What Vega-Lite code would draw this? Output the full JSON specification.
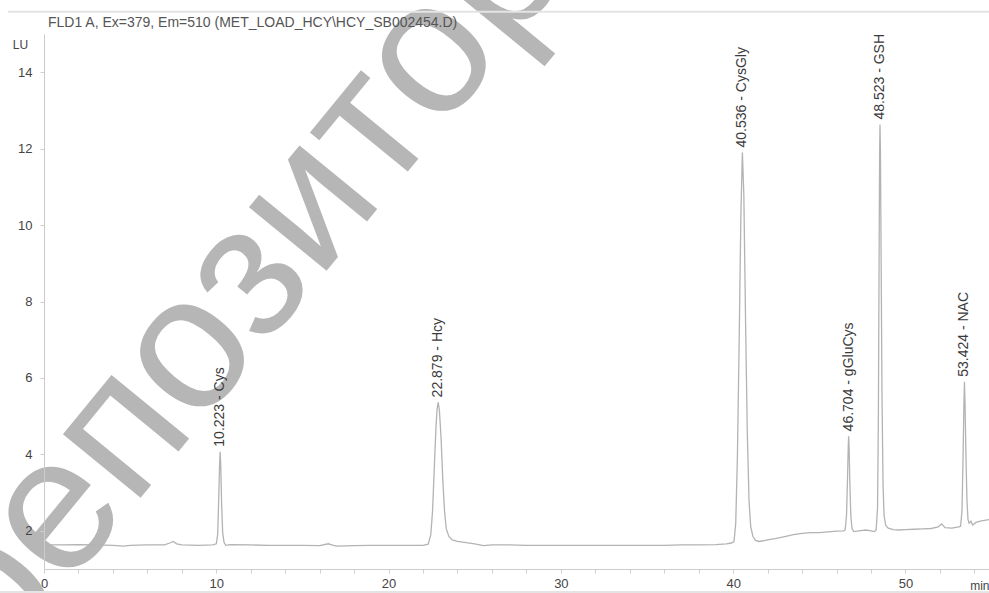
{
  "$schema": "https://vega.github.io/schema/vega-lite/v6.json",
  "width": 945,
  "height": 535,
  "autosize": {"type": "none"},
  "padding": {"left": 44, "top": 34, "right": 0, "bottom": 24},
  "background": "white",
  "config": {
    "view": {"stroke": null},
    "font": "Liberation Sans"
  },
  "datasets": {
    "trace": [
      {"t": 0, "v": 1.63}, {"t": 1, "v": 1.63}, {"t": 2, "v": 1.64}, {"t": 3, "v": 1.63}, {"t": 4, "v": 1.62},
      {"t": 4.6, "v": 1.6}, {"t": 5, "v": 1.62}, {"t": 6, "v": 1.63}, {"t": 7, "v": 1.63}, {"t": 7.3, "v": 1.68},
      {"t": 7.5, "v": 1.72}, {"t": 7.7, "v": 1.66}, {"t": 8, "v": 1.63}, {"t": 9, "v": 1.62}, {"t": 9.8, "v": 1.63},
      {"t": 10.0, "v": 1.66}, {"t": 10.08, "v": 1.9}, {"t": 10.14, "v": 2.8}, {"t": 10.19, "v": 3.7}, {"t": 10.223, "v": 4.07},
      {"t": 10.26, "v": 3.7}, {"t": 10.31, "v": 2.7}, {"t": 10.37, "v": 1.95}, {"t": 10.45, "v": 1.7}, {"t": 10.55, "v": 1.62},
      {"t": 10.8, "v": 1.64}, {"t": 12, "v": 1.63}, {"t": 13, "v": 1.62}, {"t": 14, "v": 1.62}, {"t": 15, "v": 1.62},
      {"t": 16, "v": 1.61}, {"t": 16.5, "v": 1.66}, {"t": 16.8, "v": 1.62}, {"t": 17, "v": 1.6}, {"t": 18, "v": 1.61},
      {"t": 19, "v": 1.62}, {"t": 20, "v": 1.62}, {"t": 21, "v": 1.62}, {"t": 22, "v": 1.62},
      {"t": 22.3, "v": 1.65}, {"t": 22.45, "v": 1.9}, {"t": 22.55, "v": 2.5}, {"t": 22.65, "v": 3.6}, {"t": 22.75, "v": 4.7},
      {"t": 22.82, "v": 5.2}, {"t": 22.879, "v": 5.36}, {"t": 22.95, "v": 5.15}, {"t": 23.05, "v": 4.4}, {"t": 23.15, "v": 3.3},
      {"t": 23.25, "v": 2.5}, {"t": 23.35, "v": 2.05}, {"t": 23.5, "v": 1.85}, {"t": 23.7, "v": 1.76}, {"t": 24, "v": 1.72},
      {"t": 24.5, "v": 1.69}, {"t": 25, "v": 1.66}, {"t": 25.5, "v": 1.61}, {"t": 26, "v": 1.63}, {"t": 27, "v": 1.63},
      {"t": 28, "v": 1.62}, {"t": 29, "v": 1.62}, {"t": 30, "v": 1.62}, {"t": 31, "v": 1.62}, {"t": 32, "v": 1.62},
      {"t": 33, "v": 1.62}, {"t": 34, "v": 1.62}, {"t": 35, "v": 1.62}, {"t": 36, "v": 1.62}, {"t": 37, "v": 1.63},
      {"t": 38, "v": 1.63}, {"t": 39, "v": 1.64}, {"t": 39.6, "v": 1.66}, {"t": 39.9, "v": 1.68},
      {"t": 40.05, "v": 1.72}, {"t": 40.15, "v": 2.2}, {"t": 40.25, "v": 4.0}, {"t": 40.35, "v": 7.0}, {"t": 40.45, "v": 10.3},
      {"t": 40.536, "v": 11.9}, {"t": 40.62, "v": 10.8}, {"t": 40.72, "v": 7.5}, {"t": 40.82, "v": 4.6}, {"t": 40.92, "v": 2.8},
      {"t": 41.02, "v": 2.1}, {"t": 41.15, "v": 1.85}, {"t": 41.3, "v": 1.75}, {"t": 41.5, "v": 1.72}, {"t": 41.8, "v": 1.74},
      {"t": 42, "v": 1.76}, {"t": 42.5, "v": 1.8}, {"t": 43, "v": 1.85}, {"t": 43.5, "v": 1.9}, {"t": 44, "v": 1.93},
      {"t": 44.5, "v": 1.95}, {"t": 45, "v": 1.95}, {"t": 45.5, "v": 1.97}, {"t": 46, "v": 1.99}, {"t": 46.4, "v": 2.0},
      {"t": 46.5, "v": 2.02}, {"t": 46.58, "v": 2.4}, {"t": 46.64, "v": 3.4}, {"t": 46.68, "v": 4.2}, {"t": 46.704, "v": 4.47},
      {"t": 46.73, "v": 4.2}, {"t": 46.77, "v": 3.3}, {"t": 46.83, "v": 2.4}, {"t": 46.9, "v": 2.05}, {"t": 47.0, "v": 1.98},
      {"t": 47.3, "v": 2.0}, {"t": 47.7, "v": 2.02}, {"t": 48.0, "v": 2.0}, {"t": 48.2, "v": 1.98},
      {"t": 48.3, "v": 2.02}, {"t": 48.38, "v": 2.6}, {"t": 48.43, "v": 5.0}, {"t": 48.47, "v": 9.0}, {"t": 48.5, "v": 11.8},
      {"t": 48.523, "v": 12.63}, {"t": 48.55, "v": 11.9}, {"t": 48.59, "v": 9.0}, {"t": 48.64, "v": 5.5}, {"t": 48.7, "v": 3.2},
      {"t": 48.76, "v": 2.4}, {"t": 48.85, "v": 2.15}, {"t": 49.0, "v": 2.07}, {"t": 49.3, "v": 2.03}, {"t": 49.6, "v": 2.02},
      {"t": 50, "v": 2.03}, {"t": 50.5, "v": 2.04}, {"t": 51, "v": 2.05}, {"t": 51.5, "v": 2.06}, {"t": 51.9, "v": 2.1},
      {"t": 52.1, "v": 2.18}, {"t": 52.3, "v": 2.08}, {"t": 52.7, "v": 2.07}, {"t": 53.1, "v": 2.1},
      {"t": 53.2, "v": 2.12}, {"t": 53.28, "v": 2.5}, {"t": 53.34, "v": 3.8}, {"t": 53.39, "v": 5.2}, {"t": 53.424, "v": 5.9},
      {"t": 53.46, "v": 5.3}, {"t": 53.51, "v": 4.0}, {"t": 53.57, "v": 2.8}, {"t": 53.63, "v": 2.3}, {"t": 53.7, "v": 2.2},
      {"t": 53.8, "v": 2.25}, {"t": 53.9, "v": 2.15}, {"t": 54.1, "v": 2.22}, {"t": 54.4, "v": 2.26}, {"t": 54.85, "v": 2.29}
    ],
    "peaks": [
      {"t": 10.223, "v": 4.07, "label": "10.223 - Cys"},
      {"t": 22.879, "v": 5.36, "label": "22.879 - Hcy"},
      {"t": 40.536, "v": 11.9, "label": "40.536 - CysGly"},
      {"t": 46.704, "v": 4.47, "label": "46.704 - gGluCys"},
      {"t": 48.523, "v": 12.63, "label": "48.523 - GSH"},
      {"t": 53.424, "v": 5.9, "label": "53.424 - NAC"}
    ],
    "watermark": [
      {"t": 17.93, "v": 9.65, "text": "репозиторий"}
    ],
    "header": [
      {"t": 0.23, "v": 15.18, "text": "FLD1 A, Ex=379, Em=510 (MET_LOAD_HCY\\HCY_SB002454.D)"}
    ],
    "frame": [
      {"t": -2.1, "t2": 56, "v": 15.58},
      {"t": -2.6, "t2": 56, "v": 0.4}
    ]
  },
  "encoding": {
    "x": {
      "field": "t",
      "type": "quantitative",
      "scale": {"domain": [0, 54.85], "nice": false, "zero": false},
      "axis": {
        "zindex": 1,
        "title": "min",
        "titleAngle": 0,
        "titleX": 945,
        "titleY": 16,
        "titleAlign": "right",
        "titleBaseline": "middle",
        "titleFontSize": 12,
        "titleFontWeight": "normal",
        "titleColor": "#444444",
        "values": [0, 2, 4, 6, 8, 10, 12, 14, 16, 18, 20, 22, 24, 26, 28, 30, 32, 34, 36, 38, 40, 42, 44, 46, 48, 50, 52, 54],
        "labelExpr": "datum.value % 10 === 0 ? datum.label : ''",
        "grid": false,
        "domainColor": "#cccccc",
        "tickColor": "#d0d0d0",
        "tickSize": 4,
        "labelFontSize": 13,
        "labelColor": "#444444",
        "labelPadding": 4,
        "labelFlush": false
      }
    },
    "y": {
      "field": "v",
      "type": "quantitative",
      "scale": {"domain": [1, 15], "nice": false, "zero": false},
      "axis": {
        "zindex": 1,
        "title": "LU",
        "titleAngle": 0,
        "titleX": -24,
        "titleY": 10,
        "titleAlign": "center",
        "titleBaseline": "middle",
        "titleFontSize": 12,
        "titleFontWeight": "normal",
        "titleColor": "#444444",
        "values": [2, 4, 6, 8, 10, 12, 14],
        "grid": false,
        "domainColor": "#cccccc",
        "tickColor": "#d0d0d0",
        "tickSize": 4,
        "labelFontSize": 13,
        "labelColor": "#444444",
        "labelPadding": 8
      }
    }
  },
  "layer": [
    {
      "data": {"name": "watermark"},
      "mark": {"type": "text", "angle": -50.7, "align": "center", "baseline": "alphabetic", "fontSize": 190, "font": "Liberation Sans", "color": "#b6b6b6"},
      "encoding": {"text": {"field": "text"}}
    },
    {
      "data": {"name": "frame"},
      "mark": {"type": "rule", "color": "#e4e4e4", "strokeWidth": 2},
      "encoding": {
        "x2": {"field": "t2"}
      }
    },
    {
      "data": {"name": "header"},
      "mark": {"type": "text", "align": "left", "baseline": "alphabetic", "fontSize": 14, "font": "Liberation Sans", "color": "#555555"},
      "encoding": {"text": {"field": "text"}}
    },
    {
      "data": {"name": "trace"},
      "mark": {"type": "line", "color": "#b3b3b3", "strokeWidth": 1.3, "interpolate": "linear"}
    },
    {
      "data": {"name": "peaks"},
      "mark": {"type": "text", "angle": 270, "align": "left", "baseline": "middle", "dx": 5, "fontSize": 14, "font": "Liberation Sans", "color": "#3a3a3a"},
      "encoding": {"text": {"field": "label"}}
    }
  ]
}
